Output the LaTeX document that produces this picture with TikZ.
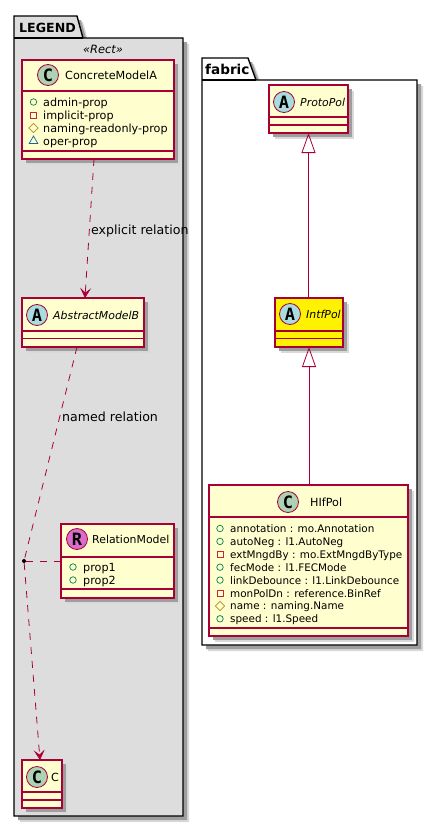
\documentclass[tikz,border=0pt]{standalone}
\usepackage{fontspec}
\setmainfont{DejaVu Sans}
\newfontfamily\spotfont{DejaVu Sans Mono}
\usepackage{xcolor}
\usepackage{tikz}
\usetikzlibrary{arrows.meta, shapes.geometric, positioning, calc, shadows}
\definecolor{ClaseBg}  {HTML}{FEFECE}
\definecolor{Borde}    {HTML}{A80036}
\definecolor{SpotC}    {HTML}{ADD1B2}
\definecolor{SpotA}    {HTML}{A9DCDF}
\definecolor{SpotR}    {HTML}{DA6DCB}
\definecolor{PkgGris}  {HTML}{DDDDDD}
\definecolor{MarkPub}  {HTML}{038048}
\definecolor{MarkPriv} {HTML}{C82930}
\definecolor{MarkProt} {HTML}{B38D22}
\definecolor{MarkPack} {HTML}{1963A0}
\tikzset{
  softshadow/.style={
    drop shadow={shadow xshift=6pt,shadow yshift=-6pt,fill=black!15,opacity=1},
    drop shadow={shadow xshift=4pt,shadow yshift=-4pt,fill=black!38,opacity=1}},
  classbox/.style={draw=Borde,fill=ClaseBg,line width=1.1pt,inner sep=0pt,outer sep=0pt,anchor=north west,softshadow},
  classline/.style={draw=Borde,line width=1.1pt},
  classname/.style={anchor=base west,inner sep=0pt,font=\fontsize{11.2}{13}\selectfont},
  absname/.style={classname,font=\fontsize{10.9}{13}\selectfont\itshape},
  attr/.style={anchor=base west,inner sep=0pt,font=\fontsize{11.2}{13}\selectfont},
  hifattr/.style={attr,font=\fontsize{10.4}{13}\selectfont},
  spot/.style={circle,draw=Borde,line width=.8pt,minimum size=21pt,inner sep=0pt,text=black,font=\fontsize{17}{17}\selectfont\spotfont\bfseries},
  markpub/.style={circle,draw=MarkPub,line width=.7pt,minimum size=6.5pt,inner sep=0pt},
  markpriv/.style={rectangle,draw=MarkPriv,line width=.7pt,minimum size=6pt,inner sep=0pt},
  markprot/.style={diamond,draw=MarkProt,line width=.7pt,minimum size=9.5pt,inner sep=0pt},
  markpack/.style={regular polygon,regular polygon sides=3,draw=MarkPack,line width=.7pt,minimum size=10pt,inner sep=0pt},
  pkgline/.style={draw=black,line width=1.4pt},
  pkgname/.style={anchor=base west,inner sep=0pt,font=\fontsize{13.6}{15}\selectfont\bfseries},
  dep/.style={draw=Borde,line width=.8pt,dash pattern=on 7pt off 7pt},
  depend/.style={dep,-{Stealth[length=10pt,width=11pt,inset=4.5pt,Borde]}},
  ext/.style={draw=Borde,line width=.8pt,{Triangle[open,length=20pt,width=14pt,line width=.8pt]}-},
  rellabel/.style={anchor=base west,inner sep=0pt,font=\fontsize{12.6}{15}\selectfont},
}
\begin{document}
\begin{tikzpicture}[x=1pt,y=-1pt]
  \useasboundingbox (0,0) rectangle (438,827);

  % LEGEND package
  \path[pkgline,fill=PkgGris,softshadow] (14,816) -- (14,16) -- (77,16) -- (83,38) -- (183,38) -- (183,816) -- cycle;
  \draw[pkgline] (14,38) -- (83,38);
  \node[pkgname,font=\fontsize{12.6}{15}\selectfont\bfseries] (legendname) at (19,32) {LEGEND};
  \node[inner sep=0pt,font=\fontsize{11.4}{13}\selectfont\itshape] (rectstereo) at (103,49) {«Rect»};

  % fabric package
  \path[pkgline,fill=white,softshadow] (202,645) -- (202,58) -- (248,58) -- (256,80) -- (417,80) -- (417,645) -- cycle;
  \draw[pkgline] (202,80) -- (256,80);
  \node[pkgname] (fabricname) at (205,74) {fabric};

  % classes
  \node[classbox,minimum width=152pt,minimum height=99pt] (concrete) at (22,60) {};
  \foreach \y in {91,151} \draw[classline] (22,\y) -- (174,\y);
  \node[spot,fill=SpotC] (concretespot) at (48,75) {C};
  \node[classname] (concretename) at (65,79.5) {ConcreteModelA};
  \foreach \i/\mrk/\attrtxt in {0/markpub/admin-prop,1/markpriv/implicit-prop,2/markprot/naming-readonly-prop,3/markpack/oper-prop}{
    \node[\mrk] (concretemark\i) at (33.5,102+\i*13) {};
    \node[attr] (concreteattr\i) at (43,106+\i*13) {\attrtxt};
  }

  \node[classbox,minimum width=122pt,minimum height=49pt] (abstract) at (22,298) {};
  \foreach \y in {331,338.5} \draw[classline] (22,\y) -- (144,\y);
  \node[spot,fill=SpotA] (abstractspot) at (37,315) {A};
  \node[absname] (abstractname) at (53,319.5) {AbstractModelB};

  \node[classbox,minimum width=113pt,minimum height=74pt] (relation) at (61,524) {};
  \foreach \y in {557,589} \draw[classline] (61,\y) -- (174,\y);
  \node[spot,fill=SpotR] (relationspot) at (77,539) {R};
  \node[classname,font=\fontsize{10.9}{13}\selectfont] (relationname) at (92,543.5) {RelationModel};
  \foreach \i/\attrtxt in {0/prop1,1/prop2}{
    \node[markpub] (relationmark\i) at (73,567+\i*13) {};
    \node[attr] (relationattr\i) at (83,571+\i*13) {\attrtxt};
  }

  \node[classbox,minimum width=40pt,minimum height=48pt] (cbox) at (22,760) {};
  \foreach \y in {792,800} \draw[classline] (22,\y) -- (62,\y);
  \node[spot,fill=SpotC] (cspot) at (37,777) {C};
  \node[classname] (cname) at (51,781.5) {C};

  \node[classbox,minimum width=79pt,minimum height=48pt] (protopol) at (269,85) {};
  \foreach \y in {117,125} \draw[classline] (269,\y) -- (348,\y);
  \node[spot,fill=SpotA] (protospot) at (284,102) {A};
  \node[absname] (protoname) at (300,106.5) {ProtoPol};

  \node[classbox,fill=yellow,minimum width=68pt,minimum height=49pt] (intfpol) at (275,298) {};
  \foreach \y in {331,338.5} \draw[classline] (275,\y) -- (343,\y);
  \node[spot,fill=SpotA] (intfspot) at (290,314) {A};
  \node[absname] (intfname) at (306,318.5) {IntfPol};

  \node[classbox,minimum width=199pt,minimum height=151pt] (hifpol) at (209,485) {};
  \foreach \y in {517,628} \draw[classline] (209,\y) -- (408,\y);
  \node[spot,fill=SpotC] (hifspot) at (288,502) {C};
  \node[classname] (hifname) at (310,506.5) {HIfPol};
  \foreach \i/\mrk/\attrtxt in {0/markpub/annotation : mo.Annotation,1/markpub/autoNeg : l1.AutoNeg,2/markpriv/extMngdBy : mo.ExtMngdByType,3/markpub/fecMode : l1.FECMode,4/markpub/linkDebounce : l1.LinkDebounce,5/markpriv/monPolDn : reference.BinRef,6/markprot/name : naming.Name,7/markpub/speed : l1.Speed}{
    \node[\mrk] (hifmark\i) at (220,528.5+\i*12.9) {};
    \node[hifattr] (hifattr\i) at (230,532.5+\i*12.9) {\attrtxt};
  }

  % relations
  \node[circle,fill=black,minimum size=4pt,inner sep=0pt] (assoc) at (24,561) {};
  \draw[depend] ([xshift=-4pt]concrete.south) .. controls (91,205) and (88,250) .. ([xshift=2pt]abstract.north);
  \draw[dep] ([xshift=-6pt]abstract.south) -- (assoc);
  \draw[depend] (assoc) -- ([xshift=-2pt]cbox.north);
  \draw[dep] (assoc) -- (relation.west |- assoc);
  \draw[ext] (protopol.south) -- (intfpol.north -| protopol.south);
  \draw[ext] (intfpol.south) -- (hifpol.north -| intfpol.south);

  \node[rellabel] (explicitlabel) at (91,234) {explicit relation};
  \node[rellabel] (namedlabel) at (62,421) {named relation};
\end{tikzpicture}
\end{document}
